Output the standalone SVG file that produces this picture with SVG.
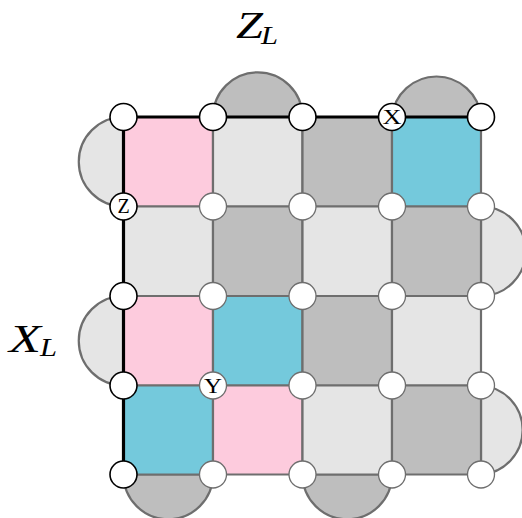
<svg xmlns="http://www.w3.org/2000/svg" width="522" height="518" viewBox="0 0 522 518">
<style>
.e{stroke:#6e6e6e;stroke-width:2.2;stroke-linejoin:round}
.p{fill:#fdcbdd}.c{fill:#74c9dc}.l{fill:#e5e5e5}.d{fill:#bebebe}
.q{fill:#fff;stroke:#000;stroke-width:1.6}
.g{fill:#fff;stroke:#6e6e6e;stroke-width:1.3}
.b{fill:none;stroke:#000;stroke-width:3.2}
.s{font-family:"Liberation Serif",serif;font-size:20px;text-anchor:middle;fill:#000}
.m{font-family:"Liberation Serif",serif;font-style:italic;fill:#000}
</style>
<g id="lobes">
<path class="e d" d="M213 117A44.7 44.7 0 0 1 302.500 117Z"/>
<path class="e d" d="M392 117A44.7 44.7 0 0 1 481 117Z"/>
<path class="e l" d="M123.500 117A44.700 44.700 0 0 0 123.500 206.500Z"/>
<path class="e l" d="M123.500 296A44.700 44.700 0 0 0 123.500 385.500Z"/>
<path class="e l" d="M481 206.500A44.700 44.700 0 0 1 481 296Z"/>
<path class="e l" d="M481 385.500A44.600 44.600 0 0 1 481 474.500Z"/>
<path class="e d" d="M123.500 474.500A44.700 44.700 0 0 0 213 474.500Z"/>
<path class="e d" d="M302.500 474.500A44.700 44.700 0 0 0 392 474.500Z"/>
</g>
<g id="cells">
<rect class="e p" x="123.500" y="117" width="89.500" height="89.500"/>
<rect class="e l" x="213" y="117" width="89.500" height="89.500"/>
<rect class="e d" x="302.500" y="117" width="89.500" height="89.500"/>
<rect class="e c" x="392" y="117" width="89" height="89.500"/>
<rect class="e l" x="123.500" y="206.500" width="89.500" height="89.500"/>
<rect class="e d" x="213" y="206.500" width="89.500" height="89.500"/>
<rect class="e l" x="302.500" y="206.500" width="89.500" height="89.500"/>
<rect class="e d" x="392" y="206.500" width="89" height="89.500"/>
<rect class="e p" x="123.500" y="296" width="89.500" height="89.500"/>
<rect class="e c" x="213" y="296" width="89.500" height="89.500"/>
<rect class="e d" x="302.500" y="296" width="89.500" height="89.500"/>
<rect class="e l" x="392" y="296" width="89" height="89.500"/>
<rect class="e c" x="123.500" y="385.500" width="89.500" height="89"/>
<rect class="e p" x="213" y="385.500" width="89.500" height="89"/>
<rect class="e l" x="302.500" y="385.500" width="89.500" height="89"/>
<rect class="e d" x="392" y="385.500" width="89" height="89"/>
</g>
<g id="connectors">
<path class="b" d="M123.500 474.500V117H481"/>
</g>
<g id="n00"><circle class="q" cx="123.500" cy="117" r="13.500"/></g>
<g id="n01"><circle class="q" cx="213" cy="117" r="13.500"/></g>
<g id="n02"><circle class="q" cx="302.500" cy="117" r="13.500"/></g>
<g id="n03"><circle class="q" cx="392" cy="117" r="13.500"/><text class="s" x="392" y="124" textLength="19" lengthAdjust="spacingAndGlyphs">X</text></g>
<g id="n04"><circle class="q" cx="481" cy="117" r="13.500"/></g>
<g id="n10"><circle class="q" cx="123.500" cy="206.500" r="13.500"/><text class="s" x="123.500" y="213">Z</text></g>
<g id="n11"><circle class="g" cx="213" cy="206.500" r="13.500"/></g>
<g id="n12"><circle class="g" cx="302.500" cy="206.500" r="13.500"/></g>
<g id="n13"><circle class="g" cx="392" cy="206.500" r="13.500"/></g>
<g id="n14"><circle class="g" cx="481" cy="206.500" r="13.500"/></g>
<g id="n20"><circle class="q" cx="123.500" cy="296" r="13.500"/></g>
<g id="n21"><circle class="g" cx="213" cy="296" r="13.500"/></g>
<g id="n22"><circle class="g" cx="302.500" cy="296" r="13.500"/></g>
<g id="n23"><circle class="g" cx="392" cy="296" r="13.500"/></g>
<g id="n24"><circle class="g" cx="481" cy="296" r="13.500"/></g>
<g id="n30"><circle class="q" cx="123.500" cy="385.500" r="13.500"/></g>
<g id="n31"><circle class="g" cx="213" cy="385.500" r="13.500"/><text class="s" x="213" y="392.500" textLength="18" lengthAdjust="spacingAndGlyphs">Y</text></g>
<g id="n32"><circle class="g" cx="302.500" cy="385.500" r="13.500"/></g>
<g id="n33"><circle class="g" cx="392" cy="385.500" r="13.500"/></g>
<g id="n34"><circle class="g" cx="481" cy="385.500" r="13.500"/></g>
<g id="n40"><circle class="q" cx="123.500" cy="474.500" r="13.500"/></g>
<g id="n41"><circle class="g" cx="213" cy="474.500" r="13.500"/></g>
<g id="n42"><circle class="g" cx="302.500" cy="474.500" r="13.500"/></g>
<g id="n43"><circle class="g" cx="392" cy="474.500" r="13.500"/></g>
<g id="n44"><circle class="g" cx="481" cy="474.500" r="13.500"/></g>
<g id="labels">
<text class="m" x="236" y="38" font-size="38" textLength="27" lengthAdjust="spacingAndGlyphs">Z</text>
<text class="m" x="261" y="44" font-size="26" textLength="17" lengthAdjust="spacingAndGlyphs">L</text>
<text class="m" x="9" y="352" font-size="39" textLength="32" lengthAdjust="spacingAndGlyphs">X</text>
<text class="m" x="40" y="356" font-size="26" textLength="17" lengthAdjust="spacingAndGlyphs">L</text>
</g>
</svg>
